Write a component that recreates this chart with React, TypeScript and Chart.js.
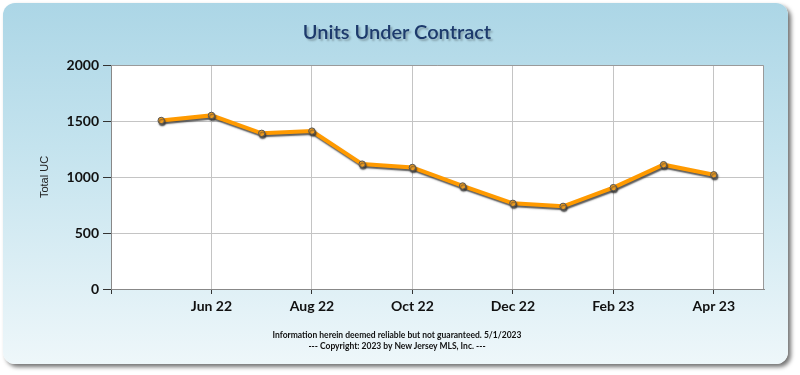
import React, { useEffect, useRef } from "react";
import { Chart, registerables } from "chart.js";

Chart.register(...registerables);

const months = ["May 22", "Jun 22", "Jul 22", "Aug 22", "Sep 22", "Oct 22", "Nov 22", "Dec 22", "Jan 23", "Feb 23", "Mar 23", "Apr 23"];
const unitsUnderContract = [1505, 1550, 1390, 1410, 1115, 1085, 920, 765, 738, 905, 1110, 1020];
const xTickPositions = [0, 2, 4, 6, 8, 10, 12];
const yTicks = [0, 500, 1000, 1500, 2000];
const titleText = "Units Under Contract";
const yAxisTitle = "Total UC";
const footerLines = [
  "Information herein deemed reliable but not guaranteed. 5/1/2023",
  "--- Copyright: 2023 by New Jersey MLS, Inc. ---",
];

const shadowPlugin = {
  id: "lineShadow",
  beforeDatasetsDraw(chart: any) {
    const ctx = chart.ctx;
    ctx.save();
    ctx.shadowColor = "rgba(50,50,50,0.8)";
    ctx.shadowOffsetX = 1;
    ctx.shadowOffsetY = 2;
    ctx.shadowBlur = 1.5;
  },
  afterDatasetsDraw(chart: any) {
    chart.ctx.restore();
  },
};

const borderPlugin = {
  id: "areaBorder",
  afterDraw(chart: any) {
    const { ctx, chartArea } = chart;
    ctx.save();
    ctx.strokeStyle = "#9a9a9a";
    ctx.lineWidth = 1;
    ctx.beginPath();
    ctx.moveTo(chartArea.left, chartArea.top + 0.5);
    ctx.lineTo(chartArea.right - 0.5, chartArea.top + 0.5);
    ctx.lineTo(chartArea.right - 0.5, chartArea.bottom);
    ctx.stroke();
    ctx.restore();
  },
};

const bgPlugin = {
  id: "areaBg",
  beforeDraw(chart: any) {
    const { ctx, chartArea } = chart;
    ctx.save();
    ctx.fillStyle = "#ffffff";
    ctx.fillRect(chartArea.left, chartArea.top, chartArea.right - chartArea.left, chartArea.bottom - chartArea.top);
    ctx.restore();
  },
};

export default function App() {
  const canvasRef = useRef<HTMLCanvasElement | null>(null);

  useEffect(() => {
    if (!canvasRef.current) return;
    const points = unitsUnderContract.map((v, i) => ({ x: i + 1, y: v }));
    const chart = new Chart(canvasRef.current, {
      type: "line",
      data: {
        datasets: [
          {
            label: titleText,
            data: points,
            borderColor: "#ff9a00",
            borderWidth: 4,
            pointRadius: 3.2,
            pointBackgroundColor: "#f5a020",
            pointBorderColor: "#555555",
            pointBorderWidth: 1,
            tension: 0,
          },
        ],
      },
      options: {
        animation: false,
        responsive: false,
        maintainAspectRatio: false,
        layout: { padding: { left: 34, right: 36, top: 65, bottom: 0 } },
        plugins: {
          legend: { display: false },
          tooltip: { enabled: false },
        },
        scales: {
          x: {
            type: "linear",
            min: 0,
            max: 13,
            afterBuildTicks: (scale: any) => {
              scale.ticks = xTickPositions.map((v) => ({ value: v }));
            },
            afterFit: (scale: any) => {
              scale.height = 86;
            },
            ticks: {
              autoSkip: false,
              maxRotation: 0,
              padding: 4,
              color: "#111111",
              font: { family: "Lato, 'DejaVu Sans'", size: 14, weight: "bold" },
              callback: (v: any) => (v >= 1 ? months[v - 1] : ""),
            },
            grid: {
              color: "#c4c4c4",
              tickColor: "#333333",
              tickLength: 5,
            },
            border: { color: "#888888", width: 1 },
          },
          y: {
            min: 0,
            max: 2000,
            afterBuildTicks: (scale: any) => {
              scale.ticks = yTicks.map((v) => ({ value: v }));
            },
            afterFit: (scale: any) => {
              scale.width = 77;
            },
            title: {
              display: true,
              text: yAxisTitle,
              color: "#222222",
              padding: 4,
              font: { family: "'Liberation Sans', Arial", size: 11 },
            },
            ticks: {
              padding: 4,
              color: "#111111",
              font: { family: "Lato, 'DejaVu Sans'", size: 14, weight: "bold" },
              callback: (v: any) => String(v),
            },
            grid: {
              color: "#c4c4c4",
              tickColor: "#333333",
              tickLength: 8,
            },
            border: { color: "#888888", width: 1 },
          },
        },
      },
      plugins: [bgPlugin, shadowPlugin, borderPlugin],
    });
    return () => chart.destroy();
  }, []);

  return (
    <div style={{ position: "fixed", left: 0, top: 0, width: 800, height: 375, background: "#ffffff" }}>
      <div
        style={{
          position: "absolute",
          left: 3,
          top: 3,
          width: 785,
          height: 361,
          borderRadius: 12,
          background: "linear-gradient(to bottom, #acd6e6 0%, #c4e3ee 40%, #eef7fa 100%)",
          boxShadow: "3px 3px 4px rgba(0,0,0,0.55)",
        }}
      />
      <canvas ref={canvasRef} width={800} height={375} style={{ position: "absolute", left: 0, top: 0 }} />
      <div
        style={{
          position: "absolute",
          left: 0,
          top: 19,
          width: 794,
          textAlign: "center",
          fontFamily: "Lato, 'DejaVu Sans'",
          fontWeight: 600,
          fontSize: 20,
          color: "#1d3a6c",
          textShadow: "2px 2px 2px rgba(0,0,0,0.25)",
        }}
      >
        {titleText}
      </div>
      <div
        style={{
          position: "absolute",
          left: 0,
          top: 330,
          width: 794,
          textAlign: "center",
          fontFamily: "Lato, 'DejaVu Sans'",
          fontWeight: "bold",
          fontSize: 8.5,
          lineHeight: "10.5px",
          color: "#111111",
        }}
      >
        {footerLines.map((l, i) => (
          <div key={i}>{l}</div>
        ))}
      </div>
    </div>
  );
}
